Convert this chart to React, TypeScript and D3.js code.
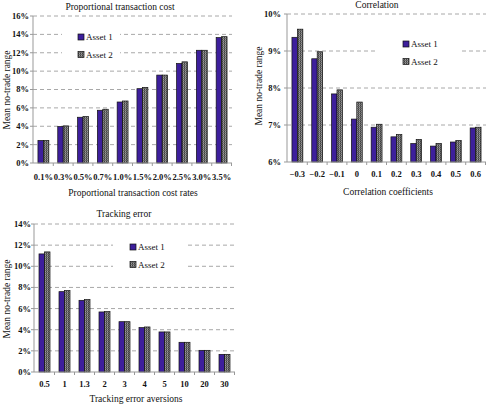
import { useEffect, useRef } from "react"
import * as d3 from "d3"

const costRates = ["0.1%", "0.3%", "0.5%", "0.7%", "1.0%", "1.5%", "2.0%", "2.5%", "3.0%", "3.5%"]
const costAsset1 = [2.45, 3.97, 4.98, 5.74, 6.64, 8.09, 9.57, 10.83, 12.27, 13.65]
const costAsset2 = [2.45, 4.04, 5.05, 5.85, 6.75, 8.23, 9.57, 11.01, 12.27, 13.75]
const costTicks = [0, 2, 4, 6, 8, 10, 12, 14, 16]

const corrCoefs = ["\u22120.3", "\u22120.2", "\u22120.1", "0", "0.1", "0.2", "0.3", "0.4", "0.5", "0.6"]
const corrAsset1 = [9.37, 8.79, 7.84, 7.16, 6.94, 6.68, 6.5, 6.43, 6.54, 6.92]
const corrAsset2 = [9.59, 8.98, 7.95, 7.62, 7.02, 6.74, 6.61, 6.5, 6.58, 6.94]
const corrTicks = [6, 7, 8, 9, 10]

const trackAversions = ["0.5", "1", "1.3", "2", "3", "4", "5", "10", "20", "30"]
const trackAsset1 = [11.17, 7.6, 6.78, 5.68, 4.76, 4.2, 3.79, 2.81, 2.05, 1.67]
const trackAsset2 = [11.36, 7.7, 6.85, 5.71, 4.76, 4.26, 3.79, 2.81, 2.05, 1.67]
const trackTicks = [0, 2, 4, 6, 8, 10, 12, 14]

const seriesNames = ["Asset 1", "Asset 2"]

const FONT = "'Liberation Serif', 'DejaVu Serif', serif"
const BLUE = "#3d1f9c"

interface PanelSpec {
  title: string
  xTitle: string
  categories: string[]
  a1: number[]
  a2: number[]
  ticks: number[]
  left: number
  right: number
  top: number
  bottom: number
  titleX: number
  titleY: number
  xLabelY: number
  xTitleX: number
  xTitleY: number
  yLabelX: number
  yTitleX: number
  yTitleY: number
  legend: { x: number; y: number; bx0: number; bx1: number; by0: number; by1: number }
}

const panels: PanelSpec[] = [
  {
    title: "Proportional transaction cost",
    xTitle: "Proportional transaction cost rates",
    categories: costRates, a1: costAsset1, a2: costAsset2, ticks: costTicks,
    left: 33, right: 232, top: 16, bottom: 163,
    titleX: 120, titleY: 10, xLabelY: 180, xTitleX: 133, xTitleY: 196,
    yLabelX: 29, yTitleX: 7, yTitleY: 90,
    legend: { x: 81, y: 37, bx0: 62, bx1: 120, by0: 28, by1: 63 }
  },
  {
    title: "Correlation",
    xTitle: "Correlation coefficients",
    categories: corrCoefs, a1: corrAsset1, a2: corrAsset2, ticks: corrTicks,
    left: 287, right: 486, top: 14, bottom: 162,
    titleX: 377, titleY: 8, xLabelY: 177, xTitleX: 388, xTitleY: 195,
    yLabelX: 281, yTitleX: 259, yTitleY: 86,
    legend: { x: 406, y: 44, bx0: 378, bx1: 462, by0: 35, by1: 70 }
  },
  {
    title: "Tracking error",
    xTitle: "Tracking error aversions",
    categories: trackAversions, a1: trackAsset1, a2: trackAsset2, ticks: trackTicks,
    left: 34, right: 235, top: 224, bottom: 372,
    titleX: 124, titleY: 217, xLabelY: 387, xTitleX: 136, xTitleY: 402,
    yLabelX: 31, yTitleX: 7, yTitleY: 299,
    legend: { x: 133, y: 247, bx0: 113, bx1: 185, by0: 238, by1: 272 }
  }
]

function drawPanel(svg: d3.Selection<SVGSVGElement, unknown, null, undefined>, p: PanelSpec) {
  const g = svg.append("g")
  const x = d3.scaleBand().domain(p.categories).range([p.left, p.right]).paddingInner(0.45).paddingOuter(0.25)
  const y = d3.scaleLinear().domain([p.ticks[0], p.ticks[p.ticks.length - 1]]).range([p.bottom, p.top])
  const bw = x.bandwidth() / 2

  // Grid lines
  g.selectAll(".grid")
    .data(p.ticks.slice(1))
    .enter()
    .append("line")
    .attr("x1", p.left)
    .attr("x2", p.right)
    .attr("y1", d => y(d))
    .attr("y2", d => y(d))
    .attr("stroke", "#a8a8a8")
    .attr("stroke-width", 1)
    .attr("stroke-dasharray", "4,3")

  // Legend background hides the grid
  g.append("rect")
    .attr("x", p.legend.bx0)
    .attr("y", p.legend.by0)
    .attr("width", p.legend.bx1 - p.legend.bx0)
    .attr("height", p.legend.by1 - p.legend.by0)
    .attr("fill", "#fff")

  // Bars
  const rows = p.categories.map((c, i) => ({ c, v1: p.a1[i], v2: p.a2[i] }))
  g.selectAll(".b1")
    .data(rows)
    .enter()
    .append("rect")
    .attr("x", d => x(d.c)!)
    .attr("y", d => y(d.v1))
    .attr("width", bw)
    .attr("height", d => p.bottom - y(d.v1))
    .attr("fill", BLUE)
    .attr("stroke", "#111")
    .attr("stroke-width", 0.7)
  g.selectAll(".b2")
    .data(rows)
    .enter()
    .append("rect")
    .attr("x", d => x(d.c)! + bw)
    .attr("y", d => y(d.v2))
    .attr("width", bw)
    .attr("height", d => p.bottom - y(d.v2))
    .attr("fill", "url(#hatch)")
    .attr("stroke", "#111")
    .attr("stroke-width", 0.7)

  // Axes
  g.append("line")
    .attr("x1", p.left).attr("x2", p.left)
    .attr("y1", p.top).attr("y2", p.bottom)
    .attr("stroke", "#999")
  g.append("line")
    .attr("x1", p.left).attr("x2", p.right)
    .attr("y1", p.bottom).attr("y2", p.bottom)
    .attr("stroke", "#999")

  g.selectAll(".ytick")
    .data(p.ticks)
    .enter()
    .append("line")
    .attr("x1", p.left - 3).attr("x2", p.left)
    .attr("y1", d => y(d)).attr("y2", d => y(d))
    .attr("stroke", "#999")

  const step = x.step()
  g.selectAll(".xtick")
    .data(p.categories)
    .enter()
    .append("line")
    .attr("x1", d => x(d)! + x.bandwidth() + (step - x.bandwidth()) / 2)
    .attr("x2", d => x(d)! + x.bandwidth() + (step - x.bandwidth()) / 2)
    .attr("y1", p.bottom).attr("y2", p.bottom + 3)
    .attr("stroke", "#999")

  g.selectAll(".ylab")
    .data(p.ticks)
    .enter()
    .append("text")
    .attr("x", p.yLabelX)
    .attr("y", d => y(d))
    .attr("dy", "0.35em")
    .attr("text-anchor", "end")
    .style("font-size", "8.5px")
    .style("font-weight", "bold")
    .text(d => `${d}%`)

  g.selectAll(".xlab")
    .data(p.categories)
    .enter()
    .append("text")
    .attr("x", d => x(d)! + x.bandwidth() / 2)
    .attr("y", p.xLabelY)
    .attr("text-anchor", "middle")
    .style("font-size", "8.5px")
    .style("font-weight", "bold")
    .text(d => d)

  g.append("text")
    .attr("x", p.titleX).attr("y", p.titleY)
    .attr("text-anchor", "middle")
    .style("font-size", "9.5px")
    .text(p.title)
  g.append("text")
    .attr("x", p.xTitleX).attr("y", p.xTitleY)
    .attr("text-anchor", "middle")
    .style("font-size", "9.5px")
    .text(p.xTitle)
  g.append("text")
    .attr("transform", `translate(${p.yTitleX},${p.yTitleY}) rotate(-90)`)
    .attr("dy", "0.35em")
    .attr("text-anchor", "middle")
    .style("font-size", "9.5px")
    .text("Mean no-trade range")

  // Legend
  seriesNames.forEach((name, i) => {
    const ly = p.legend.y + i * 17.5
    g.append("rect")
      .attr("x", p.legend.x - 3)
      .attr("y", ly - 3)
      .attr("width", 6)
      .attr("height", 6)
      .attr("fill", i === 0 ? BLUE : "url(#hatch)")
      .attr("stroke", "#111")
      .attr("stroke-width", 0.7)
    g.append("text")
      .attr("x", p.legend.x + 5)
      .attr("y", ly)
      .attr("dy", "0.35em")
      .style("font-size", "9px")
      .text(name)
  })
}

export default function App() {
  const svgRef = useRef<SVGSVGElement>(null)

  useEffect(() => {
    if (!svgRef.current) return
    const svg = d3.select(svgRef.current)
    svg.selectAll("*").remove()
    svg.style("font-family", FONT).style("fill", "#111")

    // grey cross-hatch used for Asset 2
    const pat = svg.append("defs")
      .append("pattern")
      .attr("id", "hatch")
      .attr("patternUnits", "userSpaceOnUse")
      .attr("width", 2)
      .attr("height", 2)
    pat.append("rect").attr("width", 2).attr("height", 2).attr("fill", "#9a9a9a")
    pat.append("rect").attr("width", 1).attr("height", 2).attr("fill", "#404040")
    pat.append("rect").attr("width", 2).attr("height", 1).attr("fill", "#6a6a6a")

    svg.append("rect").attr("width", 489).attr("height", 405).attr("fill", "#fff")
    panels.forEach(p => drawPanel(svg, p))
  }, [])

  return (
    <svg
      ref={svgRef}
      width={489}
      height={405}
      style={{ position: "absolute", left: 0, top: 0 }}
    />
  )
}
